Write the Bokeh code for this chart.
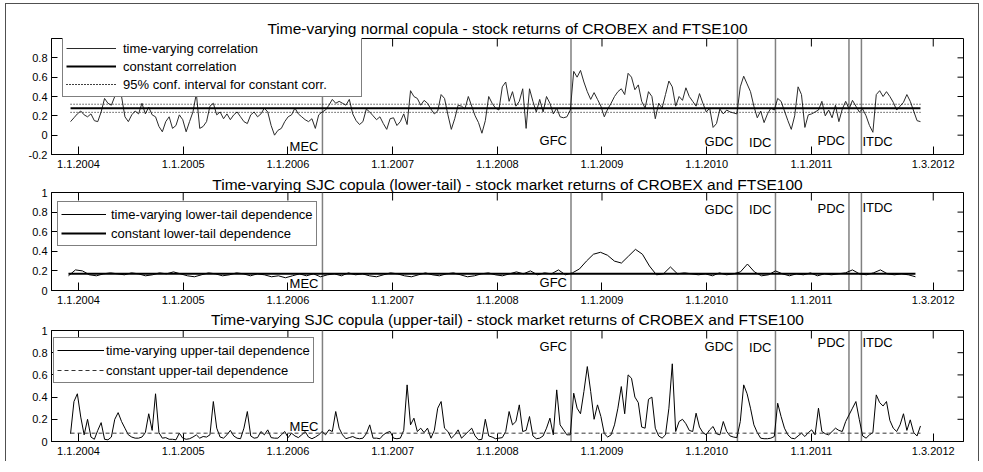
import numpy as np
from bokeh.plotting import figure
from bokeh.models import FixedTicker, Span, Legend, LegendItem, Range1d
from bokeh.layouts import column
from bokeh.embed import file_html
from bokeh.resources import INLINE
from bokeh.core.properties import value

# ---------------- data ----------------
tick_years = [2004, 2005, 2006, 2007, 2008, 2009, 2010, 2011, 2012.164]
tick_labels = ["1.1.2004", "1.1.2005", "1.1.2006", "1.1.2007", "1.1.2008",
               "1.1.2009", "1.1.2010", "1.1.2011", "1.3.2012"]

event_names = ["MEC", "GFC", "GDC", "IDC", "PDC", "ITDC"]
event_years = [2006.330, 2008.704, 2010.294, 2010.657, 2011.359, 2011.478]

# label heights of the event names in each panel
event_label_y_normal = [-0.115, -0.05, -0.07, -0.08, -0.05, -0.07]
event_label_y_lower = [0.07, 0.08, 0.83, 0.83, 0.84, 0.85]
event_label_y_upper = [0.135, 0.86, 0.86, 0.85, 0.89, 0.89]

sample_start, sample_end = 2003.924, 2012.042

# time-varying correlation (normal copula)
normal_tv = [
    0.14, 0.18, 0.22, 0.25, 0.21, 0.19, 0.22, 0.15, 0.14, 0.24,
    0.38, 0.33, 0.31, 0.40, 0.44, 0.40, 0.19, 0.14, 0.21, 0.25,
    0.22, 0.33, 0.22, 0.29, 0.21, 0.19, 0.09, 0.035, 0.14, 0.19,
    0.07, 0.10, 0.21, 0.16, 0.035, 0.14, 0.24, 0.43, 0.07, 0.09,
    0.14, 0.30, 0.33, 0.21, 0.24, 0.17, 0.22, 0.16, 0.21, 0.24,
    0.19, 0.14, 0.12, 0.21, 0.24, 0.19, 0.22, 0.28, 0.24, 0.10,
    0.00, 0.05, 0.07, 0.14, 0.19, 0.21, 0.28, 0.22, 0.19, 0.16,
    0.14, 0.17, 0.07, 0.21, 0.24, 0.26, 0.31, 0.37, 0.33, 0.35,
    0.33, 0.31, 0.37, 0.22, 0.15, 0.11, 0.14, 0.27, 0.24, 0.20,
    0.16, 0.19, 0.12, 0.06, 0.17, 0.18, 0.10, 0.14, 0.22, 0.11,
    0.46, 0.40, 0.38, 0.31, 0.36, 0.33, 0.27, 0.22, 0.25, 0.42,
    0.38, 0.21, 0.06, 0.17, 0.31, 0.30, 0.27, 0.40, 0.30, 0.20,
    0.13, 0.02, 0.15, 0.40, 0.33, 0.28, 0.26, 0.50, 0.55, 0.35,
    0.45, 0.30, 0.35, 0.48, 0.07, 0.48, 0.35, 0.24, 0.37, 0.24,
    0.40, 0.33, 0.22, 0.28, 0.19, 0.18, 0.19, 0.26, 0.66, 0.60,
    0.67, 0.55, 0.45, 0.37, 0.44, 0.37, 0.30, 0.19, 0.27, 0.33,
    0.40, 0.45, 0.48, 0.42, 0.64, 0.60, 0.47, 0.52, 0.35, 0.28,
    0.45, 0.40, 0.17, 0.33, 0.28, 0.42, 0.56, 0.50, 0.30, 0.40,
    0.36, 0.49, 0.40, 0.35, 0.30, 0.43, 0.33, 0.24, 0.28, 0.08,
    0.12, 0.27, 0.22, 0.26, 0.24, 0.23, 0.22, 0.50, 0.61, 0.53,
    0.45, 0.30, 0.18, 0.25, 0.13, 0.22, 0.28, 0.26, 0.38, 0.35,
    0.25, 0.15, 0.06, 0.20, 0.50, 0.42, 0.08, 0.21, 0.22, 0.24,
    0.26, 0.35, 0.20, 0.26, 0.18, 0.31, 0.14, 0.27, 0.35, 0.27,
    0.36, 0.30, 0.24, 0.27, 0.20, 0.10, 0.03, 0.42, 0.46, 0.40,
    0.45, 0.40, 0.34, 0.26, 0.30, 0.34, 0.42, 0.35, 0.25, 0.15,
    0.14,
]
normal_const = 0.278
normal_ci_low, normal_ci_high = 0.236, 0.320

# time-varying lower-tail dependence (SJC copula)
lower_start, lower_end = 2003.904, 2011.994
lower_tv = [
    0.15, 0.21, 0.20, 0.16, 0.15, 0.17, 0.18, 0.17, 0.16, 0.18,
    0.17, 0.15, 0.16, 0.18, 0.17, 0.19, 0.17, 0.15, 0.14, 0.16,
    0.18, 0.17, 0.15, 0.16, 0.18, 0.17, 0.15, 0.17, 0.16, 0.14,
    0.15, 0.13, 0.15, 0.17, 0.15, 0.17, 0.14, 0.16, 0.17, 0.15,
    0.18, 0.16, 0.17, 0.15, 0.14, 0.16, 0.18, 0.17, 0.15, 0.14,
    0.16, 0.18, 0.16, 0.15, 0.17, 0.18, 0.16, 0.14, 0.15, 0.17,
    0.18, 0.16, 0.15, 0.17, 0.19, 0.17, 0.20, 0.16, 0.18, 0.17,
    0.21, 0.16, 0.18, 0.22, 0.30, 0.37, 0.39, 0.36, 0.30, 0.28,
    0.35, 0.42, 0.37, 0.25, 0.16, 0.17, 0.24, 0.17, 0.18, 0.17,
    0.16, 0.17, 0.15, 0.18, 0.16, 0.17, 0.19, 0.27, 0.19, 0.15,
    0.16, 0.20, 0.17, 0.15, 0.17, 0.16, 0.18, 0.15, 0.17, 0.16,
    0.17, 0.18, 0.21, 0.17, 0.16, 0.18, 0.21, 0.17, 0.16, 0.17,
    0.16, 0.14,
]
lower_const = 0.17

# time-varying upper-tail dependence (SJC copula)
upper_tv = [
    0.07, 0.36, 0.43, 0.22, 0.06, 0.20, 0.04, 0.02, 0.10, 0.17,
    0.02, 0.015, 0.04, 0.20, 0.26, 0.18, 0.12, 0.06, 0.04, 0.03,
    0.03, 0.04, 0.08, 0.25, 0.10, 0.43, 0.08, 0.03, 0.035, 0.02,
    0.02, 0.015, 0.075, 0.03, 0.02, 0.025, 0.04, 0.06, 0.03, 0.045,
    0.04, 0.06, 0.36, 0.12, 0.04, 0.03, 0.06, 0.10, 0.05, 0.03,
    0.025, 0.12, 0.27, 0.05, 0.03, 0.035, 0.09, 0.06, 0.105, 0.035,
    0.03, 0.03, 0.06, 0.09, 0.035, 0.075, 0.05, 0.035, 0.06, 0.09,
    0.04, 0.025, 0.04, 0.06, 0.09, 0.06, 0.105, 0.09, 0.27, 0.12,
    0.06, 0.025, 0.035, 0.045, 0.03, 0.025, 0.03, 0.07, 0.15, 0.03,
    0.03, 0.025, 0.06, 0.08, 0.09, 0.03, 0.025, 0.03, 0.10, 0.51,
    0.15, 0.21, 0.09, 0.12, 0.08, 0.12, 0.03, 0.10, 0.30, 0.36,
    0.12, 0.09, 0.03, 0.06, 0.105, 0.03, 0.06, 0.09, 0.12, 0.05,
    0.015, 0.02, 0.20, 0.05, 0.04, 0.025, 0.03, 0.035, 0.09, 0.27,
    0.15, 0.18, 0.33, 0.09, 0.10, 0.225, 0.05, 0.025, 0.03, 0.05,
    0.12, 0.21, 0.06, 0.465, 0.15, 0.105, 0.06, 0.06, 0.435, 0.30,
    0.25, 0.45, 0.675, 0.45, 0.20, 0.33, 0.225, 0.07, 0.04, 0.06,
    0.15, 0.30, 0.495, 0.25, 0.60, 0.57, 0.40, 0.35, 0.13, 0.12,
    0.38, 0.40, 0.12, 0.05, 0.03, 0.06, 0.30, 0.70, 0.09, 0.18,
    0.20, 0.16, 0.10, 0.09, 0.255, 0.13, 0.08, 0.06, 0.105, 0.135,
    0.07, 0.06, 0.18, 0.09, 0.05, 0.04, 0.035, 0.18, 0.51, 0.43,
    0.30, 0.15, 0.08, 0.03, 0.025, 0.025, 0.03, 0.045, 0.345, 0.225,
    0.12, 0.06, 0.03, 0.025, 0.05, 0.075, 0.045, 0.08, 0.105, 0.06,
    0.30, 0.09, 0.07, 0.06, 0.09, 0.12, 0.10, 0.09, 0.18, 0.24,
    0.30, 0.36, 0.20, 0.05, 0.03, 0.06, 0.08, 0.42, 0.35, 0.32,
    0.36, 0.19, 0.12, 0.09, 0.15, 0.25, 0.10, 0.195, 0.08, 0.05,
    0.14,
]
upper_const = 0.075

titles = [
    "Time-varying normal copula - stock returns of CROBEX and FTSE100",
    "Time-varying SJC copula (lower-tail) - stock market returns of CROBEX and FTSE100",
    "Time-varying SJC copula (upper-tail) - stock market returns of CROBEX and FTSE100",
]

# ---------------- styling helpers ----------------
FONT = "Liberation Sans"
X_RANGE = (2003.742, 2012.453)
label_map = {t: l for t, l in zip(tick_years, tick_labels)}


def ylabels(ticks):
    return {t: ("%g" % t) for t in ticks}


def make_fig(title, yr, yticks, frame_h, top, bottom, standoff):
    p = figure(frame_width=912, frame_height=frame_h,
               x_range=Range1d(*X_RANGE), y_range=Range1d(*yr),
               output_backend="svg", toolbar_location=None,
               min_border_left=45, min_border_right=15,
               min_border_top=top, min_border_bottom=bottom,
               title=title)
    p.title.text_font = FONT
    p.title.text_font_size = "15.5px"
    p.title.text_font_style = "normal"
    p.title.align = "center"
    p.title.text_color = "black"
    p.title.standoff = standoff
    p.grid.visible = False
    p.outline_line_color = "black"
    p.outline_line_width = 1
    p.background_fill_color = "white"
    p.border_fill_color = "white"

    ax = p.xaxis[0]
    ax.ticker = FixedTicker(ticks=tick_years)
    ax.major_label_overrides = label_map
    ay = p.yaxis[0]
    ay.ticker = FixedTicker(ticks=yticks)
    ay.major_label_overrides = ylabels(yticks)
    ax.major_tick_in = 8
    ay.major_tick_in = 6
    for a in (ax, ay):
        a.major_tick_out = 0
        a.minor_tick_line_color = None
        a.axis_line_color = "black"
        a.major_tick_line_color = "black"
        a.major_label_text_font = FONT
        a.major_label_text_font_size = "11px"
        a.major_label_text_color = "black"
    ax.major_label_standoff = 5
    ay.major_label_standoff = 4

    # mirrored inward ticks on the top and right edges (clipped to the frame)
    p.scatter(x=tick_years, y=[yr[1]] * len(tick_years), marker="dash",
              size=16, angle=np.pi / 2, line_color="black", line_width=1)
    p.scatter(x=[X_RANGE[1]] * len(yticks), y=yticks, marker="dash",
              size=12, line_color="black", line_width=1)
    return p


def add_events(p, label_y):
    for yr_ev in event_years:
        p.add_layout(Span(location=yr_ev, dimension="height",
                          line_color="#808080", line_width=1.5, level="underlay"))
    n = len(event_names)
    p.text(x=event_years[:n - 1], y=label_y[:n - 1], text=event_names[:n - 1],
           text_align="right", text_baseline="middle", x_offset=-4,
           text_font=value(FONT), text_font_size="13px", text_color="black")
    p.text(x=event_years[n - 1:], y=label_y[n - 1:], text=event_names[n - 1:],
           text_align="left", text_baseline="middle", x_offset=1,
           text_font=value(FONT), text_font_size="13px", text_color="black")


def style_legend(lg, glyph_w, standoff, label_w, spacing):
    lg.label_text_font = FONT
    lg.label_text_font_size = "13px"
    lg.label_text_color = "black"
    lg.border_line_color = "black"
    lg.border_line_width = 1
    lg.background_fill_color = "white"
    lg.background_fill_alpha = 1.0
    lg.padding = 3
    lg.spacing = spacing
    lg.glyph_width = glyph_w
    lg.glyph_height = 18
    lg.label_height = 18
    lg.label_standoff = standoff
    lg.label_width = label_w
    lg.margin = 0


# ---------------- panel 1 ----------------
t1 = np.linspace(sample_start, sample_end, len(normal_tv))
p1 = make_fig(titles[0], (-0.2, 1.0), [-0.2, 0, 0.2, 0.4, 0.6, 0.8], 116, 34, 19, 3)
add_events(p1, event_label_y_normal)
r_tv = p1.line(t1, normal_tv, line_color="#2a2a2a", line_width=1)
r_c = p1.line(t1, [normal_const] * len(t1), line_color="black", line_width=2)
r_lo = p1.line(t1, [normal_ci_low] * len(t1), line_color="black", line_width=1, line_dash="1 2")
r_hi = p1.line(t1, [normal_ci_high] * len(t1), line_color="black", line_width=1, line_dash="1 2")
lg1 = Legend(items=[LegendItem(label="time-varying correlation", renderers=[r_tv]),
                    LegendItem(label="constant correlation", renderers=[r_c]),
                    LegendItem(label="95% conf. interval for constant corr.", renderers=[r_lo, r_hi])],
             location=(11, 57))
style_legend(lg1, 50, 7, 235, 0)
p1.add_layout(lg1)

# ---------------- panel 2 ----------------
t2 = np.linspace(lower_start, lower_end, len(lower_tv))
p2 = make_fig(titles[1], (0, 1), [0, 0.2, 0.4, 0.6, 0.8, 1], 98, 18, 16, 0)
add_events(p2, event_label_y_lower)
r2_tv = p2.line(t2, lower_tv, line_color="black", line_width=1)
r2_c = p2.line(t2, [lower_const] * len(t2), line_color="black", line_width=2)
lg2 = Legend(items=[LegendItem(label="time-varying lower-tail dependence", renderers=[r2_tv]),
                    LegendItem(label="constant lower-tail dependence", renderers=[r2_c])],
             location=(6, 44))
style_legend(lg2, 45, 5, 201, 1)
p2.add_layout(lg2)

# ---------------- panel 3 ----------------
t3 = np.linspace(sample_start, sample_end, len(upper_tv))
p3 = make_fig(titles[2], (0, 1), [0, 0.2, 0.4, 0.6, 0.8, 1], 111, 21, 20, 5)
add_events(p3, event_label_y_upper)
r3_tv = p3.line(t3, upper_tv, line_color="black", line_width=1)
r3_c = p3.line(t3, [upper_const] * len(t3), line_color="#333333", line_width=1, line_dash="4 3")
lg3 = Legend(items=[LegendItem(label="time-varying upper-tail dependence", renderers=[r3_tv]),
                    LegendItem(label="constant upper-tail dependence", renderers=[r3_c])],
             location=(2, 58))
style_legend(lg3, 47, 2, 203, 2)
p3.add_layout(lg3)

layout = column(p1, p2, p3, styles={
    "border-left": "1px solid #505050",
    "border-top": "1px solid #505050",
    "border-right": "1px solid #505050",
    "margin-left": "5px",
    "margin-top": "3px",
})
open("out.html", "w").write(file_html(layout, INLINE))
